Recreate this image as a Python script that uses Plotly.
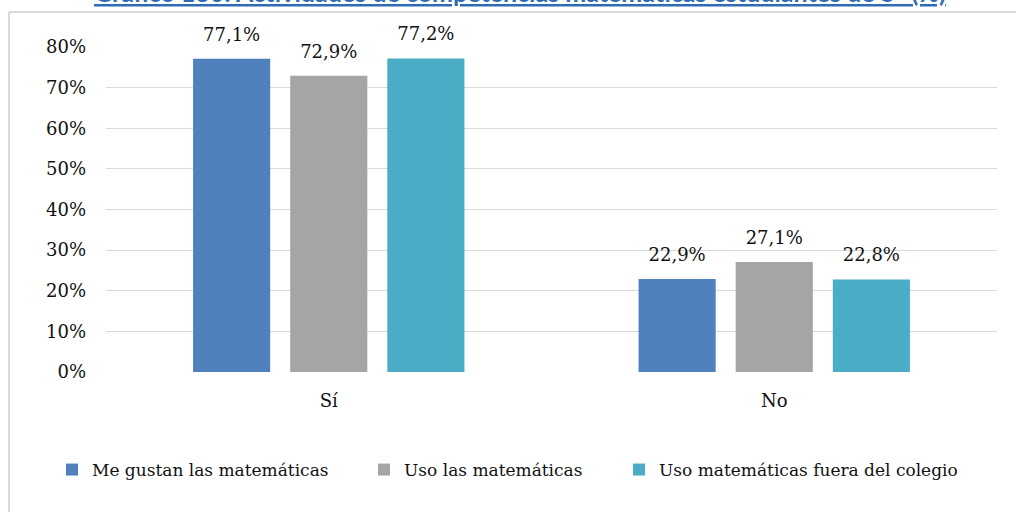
import plotly.graph_objects as go

# Chart data
categories = ["Sí", "No"]
series_names = [
    "Me gustan las matemáticas",
    "Uso las matemáticas",
    "Uso matemáticas fuera del colegio",
]
me_gustan = [77.1, 22.9]
uso = [72.9, 27.1]
uso_fuera = [77.2, 22.8]
y_ticks = [0, 10, 20, 30, 40, 50, 60, 70, 80]

series_values = [me_gustan, uso, uso_fuera]
colors = ["#4F81BD", "#A5A5A5", "#4BACC6"]
legend_ids = ["legend", "legend2", "legend3"]

# Plot area in pixels (used to express paper coordinates)
W, H = 1016, 512
L, R, T, B = 106, 19, 47, 140
PW, PH = W - L - R, H - T - B


def px_x(px):
    return (px - L) / PW


def px_y(py):
    return (H - B - py) / PH


serif = "DejaVu Serif"
text_color = "#111111"
BARGAP = 0.346

fig = go.Figure()

for i, (name, vals) in enumerate(zip(series_names, series_values)):
    fig.add_trace(go.Bar(
        x=categories, y=vals, name=name,
        marker=dict(color=colors[i], line=dict(width=0)),
        offsetgroup=str(i),
        legend=legend_ids[i],
        hoverinfo="skip",
    ))

# Value labels above each bar
for i, vals in enumerate(series_values):
    fig.add_trace(go.Scatter(
        x=categories, y=vals,
        mode="markers+text",
        marker=dict(size=20, color="rgba(0,0,0,0)"),
        text=[f"{v:.1f}".replace(".", ",") + "%" for v in vals],
        textposition="top center",
        textfont=dict(family=serif, size=18, color=text_color),
        offsetgroup=str(i),
        showlegend=False,
        hoverinfo="skip",
        cliponaxis=False,
    ))

legend_text_x = [93, 405, 660]
legend_layouts = {}
for lid, tx in zip(legend_ids, legend_text_x):
    legend_layouts[lid] = dict(
        x=px_x(tx - 41), xanchor="left",
        y=px_y(470), yanchor="middle",
        orientation="h",
        bgcolor="rgba(0,0,0,0)",
        borderwidth=0,
        font=dict(family=serif, size=17, color=text_color),
    )

title = ("<span style='text-decoration:underline'><b>Gráfico 130: Actividades de "
         "competencias matemáticas estudiantes de 5° (%)</b></span>")

# Outer frame: top and left edges of the chart box
frame_style = dict(color="#D9D9D9", width=2)
frame = [
    dict(type="line", xref="paper", yref="paper",
         x0=px_x(9), x1=px_x(1016), y0=px_y(12), y1=px_y(12),
         line=frame_style, layer="below"),
    dict(type="line", xref="paper", yref="paper",
         x0=px_x(9), x1=px_x(9), y0=px_y(12), y1=px_y(512),
         line=frame_style, layer="below"),
]

fig.update_layout(
    width=W, height=H,
    margin=dict(l=L, r=R, t=T, b=B),
    paper_bgcolor="white",
    plot_bgcolor="white",
    barmode="group",
    bargap=BARGAP,
    bargroupgap=0.206,
    scattermode="group",
    scattergap=BARGAP,
    showlegend=True,
    **legend_layouts,
    xaxis=dict(
        type="category",
        showgrid=False,
        zeroline=False,
        showline=False,
        ticks="",
        ticklabelstandoff=16,
        tickfont=dict(family=serif, size=18, color=text_color),
    ),
    yaxis=dict(
        range=[0, 80],
        tickvals=y_ticks,
        ticktext=[f"{v}%" for v in y_ticks],
        showgrid=True,
        gridcolor="#D9D9D9",
        gridwidth=1.3,
        zeroline=False,
        showline=False,
        ticks="",
        ticklabelstandoff=19,
        tickfont=dict(family=serif, size=18, color=text_color),
    ),
    shapes=frame,
    annotations=[dict(
        text=title, xref="paper", yref="paper",
        x=px_x(520), y=px_y(9), xanchor="center", yanchor="bottom",
        showarrow=False,
        font=dict(family="Lato", size=25, color="#2E6DB4"),
    )],
)

fig.write_html("out.html")
